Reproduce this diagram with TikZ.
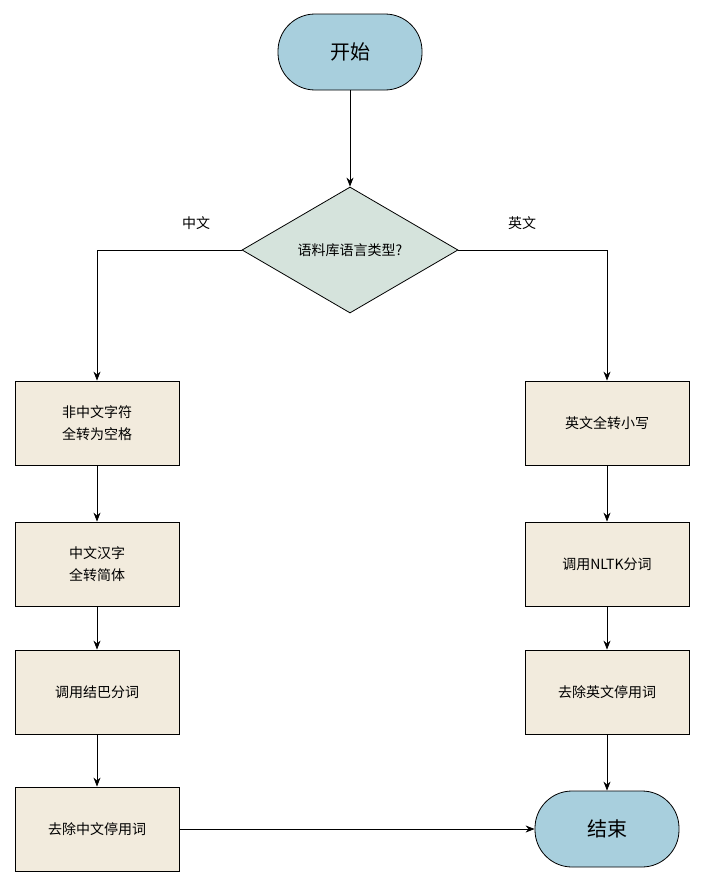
\documentclass[tikz,border=0pt]{standalone}
\usepackage{fontspec}
\newfontfamily\cjk{Noto Sans CJK SC}
\usetikzlibrary{shapes.geometric,arrows.meta}
\definecolor{termfill}{HTML}{A8CFDD}
\definecolor{decfill}{HTML}{D5E3DC}
\definecolor{boxfill}{HTML}{F2EBDD}
\tikzset{
  term/.style={draw, thick, fill=termfill, rounded corners=37pt, minimum width=144pt, minimum height=76pt, font=\cjk\fontsize{20}{24}\selectfont},
  dec/.style={draw, thick, fill=decfill, diamond, aspect=1.71, minimum width=216pt, minimum height=126pt, inner sep=0pt, font=\cjk\fontsize{14}{17}\selectfont},
  proc/.style={draw, thick, fill=boxfill, minimum width=164pt, minimum height=84pt, align=center, font=\cjk\fontsize{14}{22}\selectfont},
  arr/.style={thick, -{Stealth[length=9pt,width=7pt]}},
  lab/.style={font=\cjk\fontsize{14}{17}\selectfont}
}
\begin{document}
\begin{tikzpicture}[x=1pt,y=-1pt]
\useasboundingbox (0,0) rectangle (705,886);
\node[term] (start) at (350,52) {开始};
\node[dec] (d) at (350,250) {语料库语言类型?};
\node[lab] at (196,223) {中文};
\node[lab] at (522,223) {英文};
\node[proc] (l1) at (97,423) {非中文字符\\全转为空格};
\node[proc] (l2) at (97,564) {中文汉字\\全转简体};
\node[proc] (l3) at (97,692) {调用结巴分词};
\node[proc] (l4) at (97,829) {去除中文停用词};
\node[proc] (r1) at (607,423) {英文全转小写};
\node[proc] (r2) at (607,564) {调用NLTK分词};
\node[proc] (r3) at (607,692) {去除英文停用词};
\node[term] (end) at (607,829) {结束};
\draw[arr] (start) -- (d);
\draw[arr] (d.west) -| (l1.north);
\draw[arr] (d.east) -| (r1.north);
\draw[arr] (l1) -- (l2);
\draw[arr] (l2) -- (l3);
\draw[arr] (l3) -- (l4);
\draw[arr] (r1) -- (r2);
\draw[arr] (r2) -- (r3);
\draw[arr] (r3) -- (end);
\draw[arr] (l4) -- (end);
\end{tikzpicture}
\end{document}
